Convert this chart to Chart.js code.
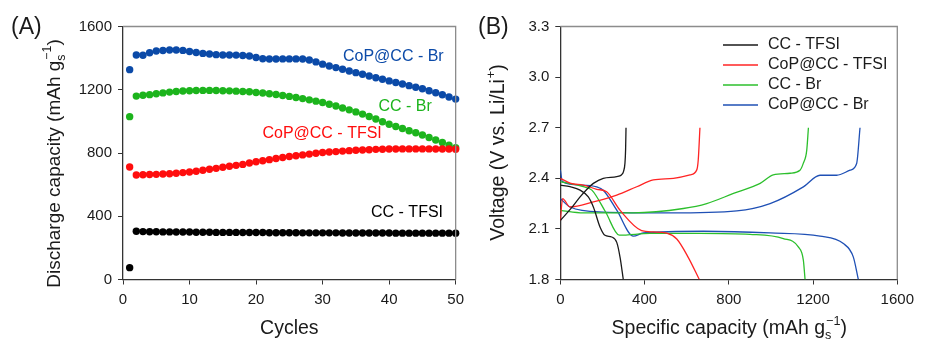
<!DOCTYPE html>
<html>
<head>
<meta charset="utf-8">
<script src="https://cdn.jsdelivr.net/npm/chart.js@4.4.0/dist/chart.umd.min.js"></script>
<style>
  html, body { margin: 0; padding: 0; background: #fff; }
  #wrap { position: relative; width: 936px; height: 353px; }
  .panel { position: absolute; top: 0; }
  #pa { left: 0; }
  #pb { left: 470px; }
</style>
</head>
<body>
<div id="wrap">
  <div class="panel" id="pa"><canvas id="chart-a" width="470" height="353"></canvas></div>
  <div class="panel" id="pb"><canvas id="chart-b" width="466" height="353"></canvas></div>
</div>
<script>
'use strict';

/* ── Panel A: discharge capacity per cycle ── */
const cycles = [1, 2, 3, 4, 5, 6, 7, 8, 9, 10, 11, 12, 13, 14, 15, 16, 17, 18, 19, 20,
  21, 22, 23, 24, 25, 26, 27, 28, 29, 30, 31, 32, 33, 34, 35, 36, 37, 38, 39, 40,
  41, 42, 43, 44, 45, 46, 47, 48, 49, 50];

const ccTfsiCap = [75, 305, 303, 302, 302, 301, 301, 300, 300, 300, 299, 299, 299, 298, 298, 298, 298, 297, 297, 297,
  297, 296, 296, 296, 296, 296, 295, 295, 295, 295, 295, 295, 294, 294, 294, 294, 294, 294, 294, 294,
  293, 293, 293, 293, 293, 293, 293, 293, 293, 293];
const copTfsiCap = [711, 661, 662, 664, 665, 667, 669, 672, 676, 680, 685, 691, 697, 703, 710, 716, 722, 728, 737, 745,
  751, 758, 765, 772, 778, 783, 788, 793, 798, 803, 806, 809, 812, 815, 817, 819, 821, 823, 824, 825,
  825, 826, 826, 826, 826, 826, 825, 825, 825, 824];
const ccBrCap = [1030, 1160, 1165, 1169, 1175, 1180, 1185, 1189, 1192, 1194, 1195, 1196, 1196, 1195, 1194, 1193, 1191, 1189, 1187, 1183,
  1179, 1175, 1170, 1164, 1158, 1151, 1144, 1136, 1128, 1119, 1108, 1097, 1085, 1073, 1060, 1046, 1031, 1015, 998, 982,
  968, 955, 941, 928, 914, 898, 882, 866, 850, 833];
const copBrCap = [1327, 1420, 1418, 1434, 1445, 1448, 1451, 1451, 1449, 1442, 1436, 1430, 1426, 1422, 1420, 1420, 1419, 1417, 1413, 1404,
  1396, 1394, 1394, 1395, 1395, 1395, 1394, 1388, 1376, 1362, 1350, 1340, 1330, 1319, 1308, 1298, 1287, 1276, 1266, 1256,
  1246, 1236, 1226, 1216, 1206, 1194, 1181, 1168, 1154, 1141];

const cycleTicks    = [0, 10, 20, 30, 40, 50];
const capacityTicks = [0, 400, 800, 1200, 1600];

/* ── Panel B: voltage profiles, [capacity, voltage] ── */
const ccTfsiDis  = [[0, 2.36], [46, 2.35], [94, 2.33], [133, 2.29], [157, 2.23], [189, 2.11], [212, 2.062], [244, 2.052], [268, 2.02], [284, 1.93], [299, 1.80]];
const ccTfsiChg  = [[0, 2.15], [50, 2.22], [94, 2.29], [130, 2.34], [157, 2.37], [204, 2.40], [268, 2.41], [290, 2.42], [300, 2.44], [307, 2.49], [310, 2.57], [312, 2.70]];
const copTfsiDis = [[0, 2.40], [50, 2.37], [109, 2.36], [173, 2.335], [220, 2.32], [284, 2.21], [386, 2.09], [442, 2.082], [505, 2.075], [553, 2.04], [608, 1.93], [660, 1.80]];
const copTfsiChg = [[0, 2.15], [11, 2.28], [46, 2.23], [157, 2.26], [268, 2.30], [363, 2.35], [442, 2.39], [537, 2.40], [616, 2.42], [648, 2.45], [655, 2.51], [663, 2.70]];
const ccBrDis    = [[0, 2.38], [109, 2.35], [150, 2.33], [215, 2.20], [280, 2.063], [426, 2.073], [663, 2.074], [901, 2.068], [1059, 2.043], [1130, 1.993], [1154, 1.914], [1162, 1.80]];
const ccBrChg    = [[0, 2.21], [109, 2.195], [347, 2.195], [584, 2.221], [695, 2.25], [822, 2.31], [949, 2.37], [1011, 2.42], [1091, 2.43], [1138, 2.448], [1154, 2.49], [1170, 2.566], [1178, 2.70]];
const copBrDis   = [[0, 2.45], [10, 2.38], [100, 2.36], [173, 2.349], [204, 2.329], [268, 2.211], [347, 2.057], [394, 2.076], [679, 2.086], [996, 2.076], [1233, 2.057], [1344, 2.013], [1391, 1.934], [1415, 1.80]];
const copBrChg   = [[0, 2.28], [46, 2.23], [204, 2.20], [521, 2.195], [838, 2.207], [996, 2.25], [1154, 2.349], [1233, 2.418], [1312, 2.418], [1376, 2.448], [1407, 2.488], [1423, 2.70]];

const specCapTicks = [0, 400, 800, 1200, 1600];
const voltTicks    = [1.8, 2.1, 2.4, 2.7, 3.0, 3.3];

const seriesNames = ['CC - TFSI', 'CoP@CC - TFSI', 'CC - Br', 'CoP@CC - Br'];

/* ── theme ── */
const FONT = "'Liberation Sans', Arial, sans-serif";
const C = {
  text:  '#1a1a1a',
  frame: '#8c8c8c',
  axis:  '#333333',
};
const dotColors  = ['#000000', '#ff0d0d', '#1cb41c', '#0b4aa8'];
const lineColors = ['#1a1a1a', '#ff2424', '#2cbf2c', '#1f50b5'];

Chart.defaults.font.family = FONT;
Chart.defaults.color = C.text;
Chart.defaults.animation = false;

/* ── helpers ── */
// text with optional subscript / superscript pieces; stacked sub+sup share x
function richWidth(ctx, parts, size) {
  let w = 0;
  parts.forEach(p => {
    if (p.sub || p.sup) {
      ctx.font = `${size * 0.65}px ${FONT}`;
      const a = p.sub ? ctx.measureText(p.sub).width : 0;
      const b = p.sup ? ctx.measureText(p.sup).width : 0;
      w += Math.max(a, b);
    } else {
      ctx.font = `${size}px ${FONT}`;
      w += ctx.measureText(p.t).width;
    }
  });
  return w;
}

function drawRich(ctx, cx, cy, parts, size, rotate) {
  ctx.save();
  ctx.translate(cx, cy);
  if (rotate) ctx.rotate(-Math.PI / 2);
  ctx.fillStyle = C.text;
  ctx.textBaseline = 'middle';
  ctx.textAlign = 'left';
  let x = -richWidth(ctx, parts, size) / 2;
  parts.forEach(p => {
    if (p.sub || p.sup) {
      ctx.font = `${size * 0.65}px ${FONT}`;
      let w = 0;
      if (p.sub) { ctx.fillText(p.sub, x, size * 0.33); w = ctx.measureText(p.sub).width; }
      if (p.sup) { ctx.fillText(p.sup, x + 1, -size * 0.38); w = Math.max(w, ctx.measureText(p.sup).width + 1); }
      x += w;
    } else {
      ctx.font = `${size}px ${FONT}`;
      ctx.fillText(p.t, x, 0);
      x += ctx.measureText(p.t).width;
    }
  });
  ctx.restore();
}

/* top and right edges of the box */
const framePlugin = {
  id: 'frame',
  afterDraw(chart) {
    const { ctx, chartArea: a } = chart;
    ctx.save();
    ctx.strokeStyle = C.frame;
    ctx.lineWidth = 1.3;
    ctx.beginPath();
    ctx.moveTo(a.left, a.top);
    ctx.lineTo(a.right, a.top);
    ctx.lineTo(a.right, a.bottom);
    ctx.stroke();
    ctx.restore();
  },
};

function axisScale(ticks, min, max, fmt, fit) {
  return {
    type: 'linear',
    min, max,
    afterBuildTicks: s => { s.ticks = ticks.map(v => ({ value: v })); },
    afterFit: fit,
    grid: { display: true, drawOnChartArea: false, drawTicks: true, tickLength: 5, color: C.axis, lineWidth: 1 },
    border: { display: true, color: C.axis, width: 1.3 },
    ticks: { font: { size: 15 }, color: C.text, padding: 6, callback: fmt, autoSkip: false, maxRotation: 0 },
    title: { display: false },
  };
}

/* ============================================================
   PANEL A
   ============================================================ */
(function initPanelA() {
  const ctx = document.getElementById('chart-a');
  const sets = [ccTfsiCap, copTfsiCap, ccBrCap, copBrCap];

  const labelSpots = [
    { text: seriesNames[0], x: 48.1, y: 420 },
    { text: seriesNames[1], x: 38.9, y: 920 },
    { text: seriesNames[2], x: 46.4, y: 1091 },
    { text: seriesNames[3], x: 48.2, y: 1407 },
  ];

  const decorA = {
    id: 'decorA',
    afterDraw(chart) {
      const { ctx: g, scales: { x, y }, chartArea: a } = chart;
      g.save();
      g.font = `16px ${FONT}`;
      g.textAlign = 'right';
      g.textBaseline = 'middle';
      labelSpots.forEach((l, i) => {
        g.fillStyle = dotColors[i];
        g.fillText(l.text, x.getPixelForValue(l.x), y.getPixelForValue(l.y));
      });
      g.fillStyle = C.text;
      g.textAlign = 'left';
      g.font = `23px ${FONT}`;
      g.fillText('(A)', 11, 28);
      g.restore();

      drawRich(g, (a.left + a.right) / 2, 329, [{ t: 'Cycles' }], 19.5, false);
      drawRich(g, 55, 164, [
        { t: 'Discharge capacity (mAh g' }, { sub: 's', sup: '\u22121' }, { t: ')' },
      ], 19, true);
    },
  };

  new Chart(ctx, {
    type: 'scatter',
    data: {
      datasets: sets.map((vals, i) => ({
        label: seriesNames[i],
        data: cycles.map((c, k) => ({ x: c, y: vals[k] })),
        backgroundColor: dotColors[i],
        borderWidth: 0,
        pointRadius: 3.7,
        clip: false,
      })),
    },
    options: {
      responsive: false,
      layout: { padding: { top: 26.5, right: 10, left: 0, bottom: 0 } },
      plugins: { legend: { display: false }, tooltip: { enabled: false } },
      scales: {
        x: axisScale(cycleTicks, 0, 50, v => String(v), s => { s.height = 73.5; }),
        y: axisScale(capacityTicks, 0, 1600, v => String(v), s => { s.width = 123; }),
      },
    },
    plugins: [framePlugin, decorA],
  });
})();

/* ============================================================
   PANEL B
   ============================================================ */
(function initPanelB() {
  const ctx = document.getElementById('chart-b');
  const curves = [
    [ccTfsiDis, ccTfsiChg],
    [copTfsiDis, copTfsiChg],
    [ccBrDis, ccBrChg],
    [copBrDis, copBrChg],
  ];

  const datasets = [];
  curves.forEach((pair, i) => {
    pair.forEach((pts, j) => {
      datasets.push({
        label: j === 0 ? seriesNames[i] : seriesNames[i] + ' (charge)',
        data: pts,
        borderColor: lineColors[i],
        borderWidth: 1.3,
        pointRadius: 0,
        fill: false,
        cubicInterpolationMode: 'monotone',
      });
    });
  });

  const decorB = {
    id: 'decorB',
    afterDraw(chart) {
      const { ctx: g, chartArea: a } = chart;
      g.save();
      /* legend */
      g.font = `16px ${FONT}`;
      g.textBaseline = 'middle';
      g.textAlign = 'left';
      seriesNames.forEach((name, i) => {
        const yy = 45 + i * 20;
        g.strokeStyle = lineColors[i];
        g.lineWidth = 1.3;
        g.beginPath();
        g.moveTo(253, yy);
        g.lineTo(288, yy);
        g.stroke();
        g.fillStyle = C.text;
        g.fillText(name, 298, yy);
      });
      g.font = `23px ${FONT}`;
      g.fillText('(B)', 8, 28);
      g.restore();

      drawRich(g, (a.left + a.right) / 2, 329, [
        { t: 'Specific capacity (mAh g' }, { sub: 's', sup: '\u22121' }, { t: ')' },
      ], 19.5, false);
      drawRich(g, 29, 153, [
        { t: 'Voltage (V vs. Li/Li' }, { sup: '+' }, { t: ')' },
      ], 19.5, true);
    },
  };

  new Chart(ctx, {
    type: 'line',
    data: { datasets },
    options: {
      responsive: false,
      layout: { padding: { top: 26.5, right: 38.7, left: 0, bottom: 0 } },
      plugins: { legend: { display: false }, tooltip: { enabled: false } },
      scales: {
        x: axisScale(specCapTicks, 0, 1600, v => String(v), s => { s.height = 73.5; }),
        y: axisScale(voltTicks, 1.8, 3.3, v => v.toFixed(1), s => { s.width = 90.3; }),
      },
    },
    plugins: [framePlugin, decorB],
  });
})();
</script>
</body>
</html>
